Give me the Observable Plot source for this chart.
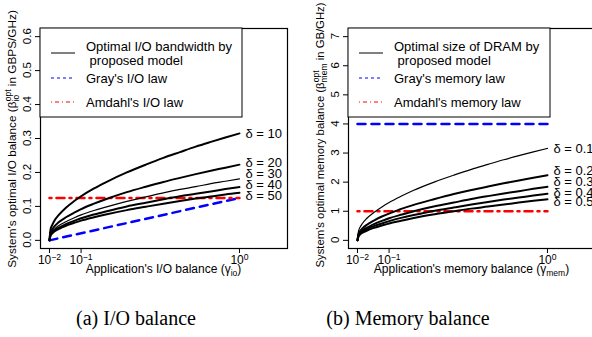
<!DOCTYPE html>
<html><head><meta charset="utf-8">
<script src="https://cdn.jsdelivr.net/npm/d3@7"></script>
<script src="https://cdn.jsdelivr.net/npm/@observablehq/plot@0.6"></script>
<style>
body{margin:0;background:#fff;}
#wrap{position:relative;width:592px;height:337px;overflow:hidden;background:#fff;font-family:"Liberation Sans",Arial,sans-serif;}
.panel{position:absolute;top:0;width:308px;height:290px;}
.panel svg{max-width:none !important;}
#overlay{position:absolute;left:0;top:0;z-index:5;pointer-events:none;}
.cap{position:absolute;top:308px;line-height:20px;font-family:"Liberation Serif","Times New Roman",serif;font-size:20px;white-space:nowrap;transform:translateX(-50%);color:#000;}
</style></head><body><div id="wrap"></div>
<script>
// application balance (x values shared by all curves)
const gamma = [0.01,0.012,0.015,0.02,0.03,0.05,0.075,0.1,0.15,0.2,0.3,0.4,0.5,0.6,0.7,0.8,0.9,1];

// (a) I/O balance: optimal I/O bandwidth by proposed model, per delta
const ioDeltas = ["10","20","30","40","50"];
const io10 = [0,0.032,0.044,0.058,0.074,0.096,0.115,0.130,0.153,0.171,0.200,0.223,0.243,0.260,0.276,0.290,0.303,0.315];
const io20 = [0,0.023,0.031,0.041,0.053,0.068,0.081,0.092,0.108,0.121,0.142,0.158,0.172,0.184,0.195,0.205,0.214,0.223];
const io30 = [0,0.018,0.026,0.033,0.043,0.055,0.066,0.075,0.088,0.098,0.115,0.128,0.140,0.150,0.158,0.167,0.174,0.181];
const io40 = [0,0.016,0.022,0.029,0.037,0.048,0.057,0.065,0.076,0.085,0.100,0.111,0.121,0.130,0.137,0.144,0.151,0.157];
const io50 = [0,0.014,0.020,0.026,0.033,0.043,0.051,0.058,0.068,0.076,0.089,0.099,0.108,0.116,0.123,0.129,0.135,0.140];
const ioLabelY = [0.315,0.229,0.197,0.165,0.132];
const grayIOx = [0.01, 1];
const grayIOy = [0, 0.125];
const amdahlIOx = [0.01, 1];
const amdahlIOy = [0.125, 0.125];
const ioYTicks = [0,0.1,0.2,0.3,0.4,0.5,0.6];

// (b) Memory balance: optimal DRAM size by proposed model, per delta
const memDeltas = ["0.1","0.2","0.3","0.4","0.5"];
const mem01 = [0,0.32,0.45,0.58,0.75,0.96,1.15,1.30,1.53,1.72,2.01,2.24,2.44,2.61,2.77,2.91,3.04,3.16];
const mem02 = [0,0.23,0.32,0.41,0.53,0.68,0.82,0.92,1.09,1.22,1.42,1.59,1.73,1.85,1.96,2.06,2.15,2.24];
const mem03 = [0,0.19,0.26,0.34,0.43,0.56,0.67,0.76,0.89,1.00,1.17,1.30,1.42,1.52,1.61,1.69,1.77,1.84];
const mem04 = [0,0.16,0.23,0.29,0.38,0.49,0.58,0.66,0.78,0.87,1.02,1.13,1.23,1.32,1.40,1.47,1.54,1.60];
const mem05 = [0,0.14,0.20,0.26,0.33,0.43,0.51,0.58,0.68,0.77,0.90,1.00,1.09,1.16,1.23,1.30,1.36,1.41];
const memLabelY = [3.16,2.39,2.01,1.63,1.34];
const grayMemx = [0.01, 1];
const grayMemy = [4, 4];
const amdahlMemx = [0.01, 1];
const amdahlMemy = [1, 1];
const memYTicks = [0,1,2,3,4,5,6,7];

// x ticks
const xTicks = [0.01, 0.1, 1];
const xTickExp = ["\u22122", "\u22121", "0"];

const overlay = d3.create("svg").attr("id", "overlay").attr("width", 592).attr("height", 337)
  .attr("font-family", "'Liberation Sans', Arial, sans-serif");

function buildPanel(cfg) {
  const marks = [
    Plot.frame({stroke: "black", strokeWidth: 1.2}),
    Plot.axisX({ticks: xTicks, tickSize: 5, tickPadding: 2, label: null,
      tickFormat: (d) => "10^" + xTickExp[xTicks.indexOf(d)]}),
    Plot.axisY({ticks: cfg.yTicks, tickSize: 5, label: null, tickFormat: () => ""}),
    Plot.line(cfg.grayX.map((x, i) => [x, cfg.grayY[i]]), {stroke: "#0000ff", strokeWidth: 2.5, strokeDasharray: "8,6"}),
    Plot.line(cfg.amdX.map((x, i) => [x, cfg.amdY[i]]), {stroke: "#ff0000", strokeWidth: 2.5, strokeDasharray: "2,5,8,5"})
  ];
  cfg.series.forEach((s, i) => {
    marks.push(Plot.line(s.map((v, j) => [gamma[j], v]), {stroke: "black", strokeWidth: cfg.widths[i], curve: "monotone-x"}));
  });
  marks.push(Plot.text(cfg.deltas.map((d, i) => ({d, y: cfg.labelY[i]})), {
    x: () => 1, y: "y", text: (r) => "\u03b4 = " + r.d, textAnchor: "start", dx: 6, fontSize: 13
  }));
  const svg = Plot.plot({
    width: 308, height: 290,
    marginLeft: 40, marginRight: 21, marginTop: 28, marginBottom: 42,
    style: {fontFamily: "'Liberation Sans', Arial, sans-serif", fontSize: "12px", background: "white", color: "black"},
    x: {type: "pow", exponent: 0.7, domain: [-0.0006, 1.364]},
    y: {domain: cfg.yDomain},
    marks
  });
  const S = d3.select(svg);
  // superscript exponents on x tick labels
  S.selectAll('g[aria-label="x-axis tick label"] text').each(function() {
    const t = d3.select(this);
    const parts = t.text().split("^");
    t.text(parts[0]);
    t.append("tspan").attr("dy", "-0.45em").attr("font-size", "0.72em").text(parts[1]);
  });
  // rotated y tick labels (R style) in an overlay, placed with the plot's own y scale
  const sy = svg.scale("y");
  const yPix = d3.scaleLinear(sy.domain, sy.range);
  const yl = overlay.append("g").attr("font-size", 11.5).attr("text-anchor", "middle").attr("fill", "black");
  cfg.yTicks.forEach((v) => {
    yl.append("text").attr("transform", "translate(" + (cfg.offset + 31) + "," + yPix(v).toFixed(2) + ") rotate(-90)").text(cfg.yFmt(v));
  });
  // legend
  const g = S.append("g").attr("text-anchor", "start");
  g.append("rect").attr("x", 40).attr("y", 28).attr("width", 202).attr("height", 89)
    .attr("fill", "white").attr("stroke", "black").attr("stroke-width", 1);
  g.append("line").attr("x1", 51).attr("x2", 75).attr("y1", 53).attr("y2", 53).attr("stroke", "black").attr("stroke-width", 1);
  g.append("line").attr("x1", 51).attr("x2", 75).attr("y1", 78).attr("y2", 78).attr("stroke", "#0000ff").attr("stroke-width", 1).attr("stroke-dasharray", "3,3");
  g.append("line").attr("x1", 51).attr("x2", 75).attr("y1", 102).attr("y2", 102).attr("stroke", "#ff0000").attr("stroke-width", 1).attr("stroke-dasharray", "1,3,4,3");
  const lt = (y, s) => g.append("text").attr("x", 86).attr("y", y).attr("font-size", 13).attr("fill", "black").attr("xml:space", "preserve").style("white-space", "pre").text(s);
  lt(51, cfg.leg[0]); lt(65, cfg.leg[1]); lt(83, cfg.leg[2]); lt(107, cfg.leg[3]);
  // y title
  const yt = S.append("text").attr("transform", `translate(16,${cfg.yTitleC}) rotate(-90)`)
    .attr("text-anchor", "middle").attr("font-size", cfg.yTitleFs).attr("fill", "black");
  yt.append("tspan").text(cfg.yTitle[0]);
  yt.append("tspan").attr("dy", 3).attr("font-size", 8.5).text(cfg.yTitle[1]);
  yt.append("tspan").attr("dx", -cfg.subW).attr("dy", -8).attr("font-size", 8.5).text("opt");
  yt.append("tspan").attr("dx", cfg.afterDx).attr("dy", 5).text(cfg.yTitle[2]);
  // x title
  const xt = S.append("text").attr("x", 163.5).attr("y", 273).attr("text-anchor", "middle")
    .attr("font-size", 12).attr("fill", "black");
  xt.append("tspan").text(cfg.xTitle[0]);
  xt.append("tspan").attr("dy", 3).attr("font-size", 8.5).text(cfg.xTitle[1]);
  xt.append("tspan").attr("dy", -3).text(")");
  return svg;
}

const left = buildPanel({
  offset: 0,
  series: [io10, io20, io30, io40, io50], widths: [2, 2, 1.2, 2, 2], deltas: ioDeltas, labelY: ioLabelY,
  grayX: grayIOx, grayY: grayIOy, amdX: amdahlIOx, amdY: amdahlIOy,
  yTicks: ioYTicks, yFmt: (d) => d.toFixed(1), yDomain: [-0.024, 0.624],
  leg: ["Optimal I/O bandwidth by", " proposed model", "Gray's I/O law", "Amdahl's I/O law"],
  yTitle: ["System's optimal I/O balance (\u03b2", "io", " in GBPS/GHz)"], subW: 6.5, afterDx: 0,
  yTitleC: 139, yTitleFs: 11.8,
  xTitle: ["Application's I/O balance (\u03b3", "io"]
});
const right = buildPanel({
  offset: 308,
  series: [mem01, mem02, mem03, mem04, mem05], widths: [1.2, 2, 2, 2, 2], deltas: memDeltas, labelY: memLabelY,
  grayX: grayMemx, grayY: grayMemy, amdX: amdahlMemx, amdY: amdahlMemy,
  yTicks: memYTicks, yFmt: (d) => String(d), yDomain: [-0.28, 7.28],
  leg: ["Optimal size of DRAM by", " proposed model", "Gray's memory law", "Amdahl's memory law"],
  yTitle: ["System's optimal memory balance (\u03b2", "mem", " in GB/GHz)"], subW: 18.7, afterDx: 7,
  yTitleC: 135, yTitleFs: 11.3,
  xTitle: ["Application's memory balance (\u03b3", "mem"]
});

const wrap = document.getElementById("wrap");
const p1 = document.createElement("div"); p1.className = "panel"; p1.style.left = "0px"; p1.appendChild(left);
const p2 = document.createElement("div"); p2.className = "panel"; p2.style.left = "308px"; p2.appendChild(right);
wrap.appendChild(p1); wrap.appendChild(p2);
wrap.appendChild(overlay.node());
const c1 = document.createElement("div"); c1.className = "cap"; c1.style.left = "136px"; c1.textContent = "(a) I/O balance";
const c2 = document.createElement("div"); c2.className = "cap"; c2.style.left = "408px"; c2.textContent = "(b) Memory balance";
wrap.appendChild(c1); wrap.appendChild(c2);
</script></body></html>
